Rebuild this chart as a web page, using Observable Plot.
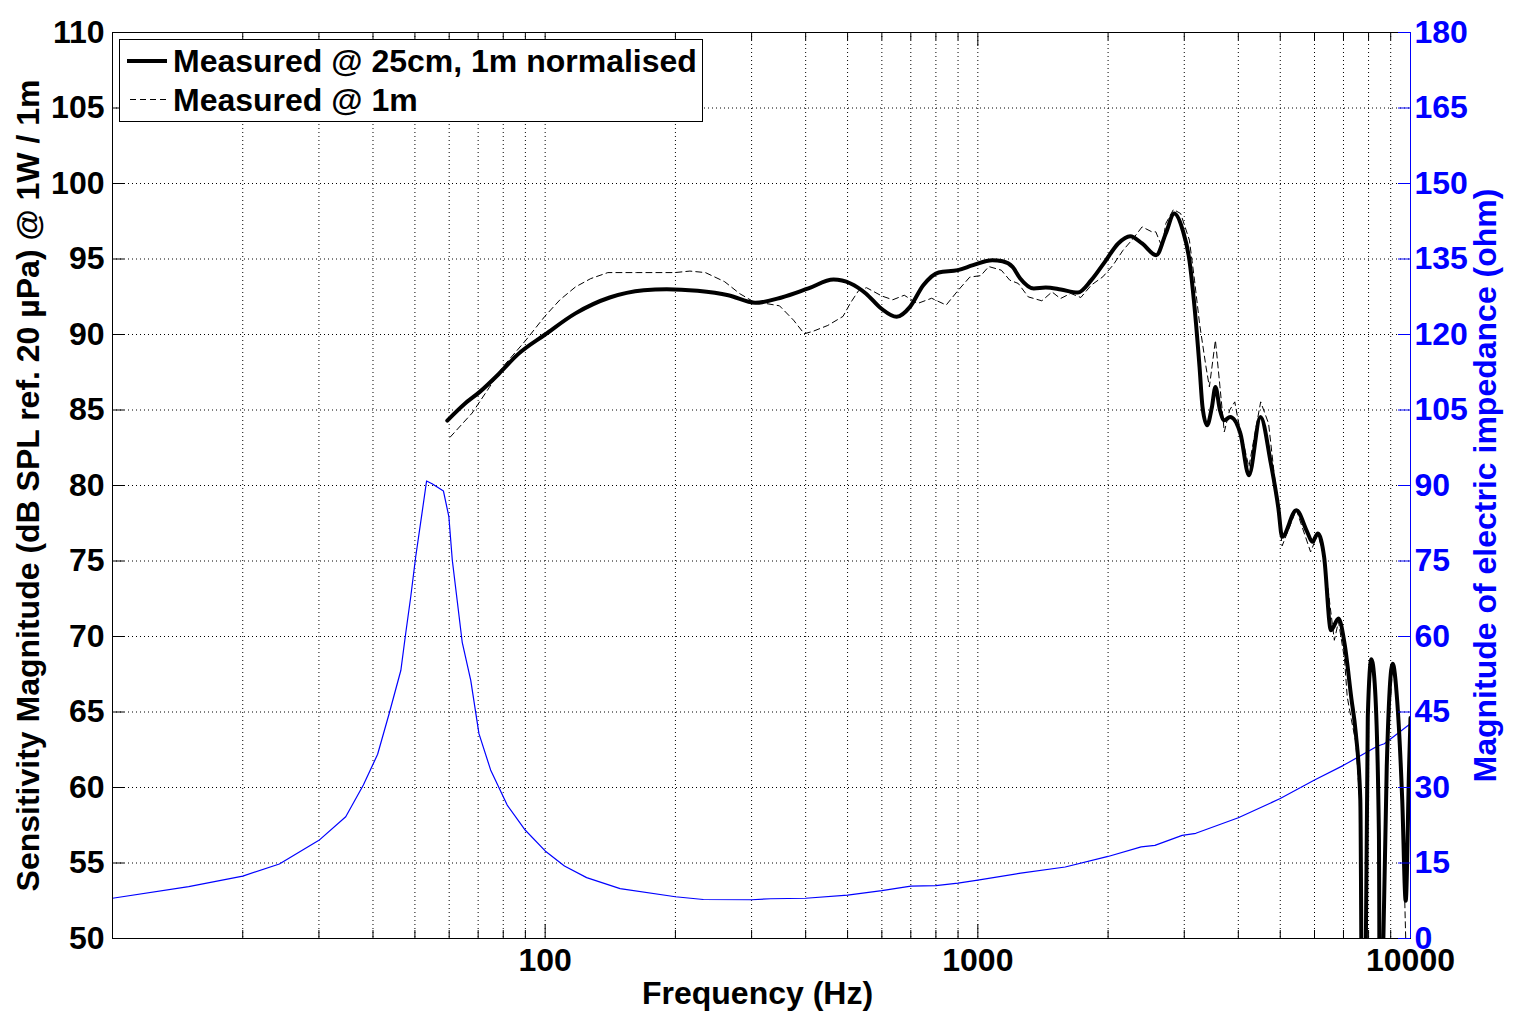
<!DOCTYPE html>
<html>
<head>
<meta charset="utf-8">
<script src="https://cdn.jsdelivr.net/npm/d3@7"></script>
<script src="https://cdn.jsdelivr.net/npm/@observablehq/plot@0.6"></script>
<style>
  html, body { margin: 0; padding: 0; background: #fff; }
  #chart svg { display: block; }
</style>
</head>
<body>
<div id="chart"></div>
<script>
// ---------------- DATA ----------------
// Measured @ 25cm, 1m normalised : [frequency Hz, dB SPL]
const measured25cm = [[59.4,84.3],[65.1,85.4],[70.6,86.2],[78.2,87.4],[86.6,88.7],[100,90.0],[117.5,91.4],[141,92.45],[169,92.93],[191,93.0],[225,92.89],[265,92.6],[306,92.1],[352,92.45],[406,93.05],[464,93.64],[508,93.38],[551,92.72],[598,91.72],[649,91.17],[697,91.83],[748,93.26],[812,94.11],[899,94.26],[975,94.59],[1080,94.92],[1140,94.85],[1203,94.48],[1253,93.71],[1347,93.05],[1435,93.11],[1555,92.98],[1702,92.78],[1829,93.6],[1966,94.81],[2111,96.03],[2250,96.51],[2397,96.03],[2585,95.25],[2719,96.69],[2844,98.01],[2975,96.91],[3083,94.92],[3168,91.83],[3254,87.85],[3306,85.2],[3387,83.99],[3476,85.2],[3541,86.53],[3628,84.99],[3712,84.32],[3831,84.54],[4045,83.44],[4231,80.68],[4500,84.54],[4756,81.46],[4950,78.5],[5050,76.6],[5446,78.36],[5770,76.93],[5929,76.27],[6110,76.82],[6315,75.27],[6548,70.42],[6817,71.19],[7039,69.54],[7300,65.9],[7474,63.6],[7656,59.2],[7770,30],[7967,64.7],[8120,68.5],[8265,66.9],[8452,57.0],[8510,35],[8656,50],[8813,61.4],[9093,68.2],[9313,65.8],[9569,59.2],[9748,52.5],[9926,61.4],[10000,64.6]];

// Measured @ 1m : [frequency Hz, dB SPL]
const measured1m = [[60.3,83.2],[67.8,84.8],[74.3,86.5],[79.8,87.85],[90.1,89.6],[99.8,91.2],[108.2,92.3],[117.5,93.15],[127.4,93.7],[139.6,94.1],[162.8,94.1],[199.4,94.1],[216,94.2],[234.6,94.1],[259.8,93.5],[281.8,92.7],[302,92.2],[348,91.9],[375,90.95],[397,90.05],[415,90.2],[450,90.6],[488,91.2],[508,92.1],[530,92.9],[553,93.1],[600,92.55],[636,92.3],[676,92.6],[725,92.05],[782,92.4],[845,91.95],[899,92.9],[958,93.8],[1016,93.9],[1060,94.5],[1133,94.26],[1185,93.6],[1240,93.38],[1308,92.49],[1406,92.23],[1484,92.82],[1552,92.38],[1639,92.72],[1730,92.45],[1829,93.27],[1945,93.82],[2053,94.59],[2166,95.58],[2287,96.36],[2397,97.13],[2524,96.8],[2578,96.8],[2665,95.8],[2719,97.35],[2832,98.28],[2943,98.01],[3083,96.25],[3168,93.6],[3254,90.73],[3368,87.85],[3429,86.53],[3541,89.62],[3628,86.53],[3712,83.55],[3819,84.99],[3925,85.54],[3996,84.32],[4231,81.23],[4505,85.54],[4699,84.1],[4950,78.3],[5050,76.0],[5446,78.4],[5876,75.6],[6110,76.8],[6315,75.2],[6668,69.75],[6817,71.0],[7039,68.5],[7141,66.0],[7300,64.5],[7474,63.0],[7656,58.5],[7770,30],[7967,64.7],[8120,68.5],[8265,66.9],[8452,57],[8510,35],[8656,50],[8813,61.4],[9093,68.2],[9313,65.8],[9569,59.2],[9748,50],[9830,35],[10000,38]];

// Magnitude of electric impedance : [frequency Hz, ohm]
const impedance = [[10,8.0],[15,10.3],[20,12.4],[24.3,14.8],[30,19.5],[34.6,24.2],[38,30.5],[41,36.6],[43.6,44.7],[46.4,53.3],[47.6,60.6],[48.9,67.9],[50.2,75.8],[51.9,84.4],[53.2,90.9],[54.9,90.3],[58.2,88.9],[59.9,83.8],[61,75.2],[62.6,67.2],[64.3,58.9],[67.3,51.3],[70.3,40.7],[74.8,33.5],[81.7,26.5],[90,21.5],[100,17.4],[110.8,14.4],[124.7,12.1],[149,9.9],[200,8.3],[232,7.75],[300,7.7],[332,7.9],[400,8.0],[500,8.6],[600,9.5],[700,10.4],[800,10.5],[900,11.0],[1000,11.6],[1257,13.0],[1592,14.2],[2000,16.3],[2385,18.2],[2566,18.5],[2967,20.5],[3190,20.9],[4000,24.0],[5000,27.8],[6000,31.5],[7000,34.4],[8375,38.2],[8700,38.7],[10000,42.7]];

// Axes / ticks
const xDomain = [10, 10000];
const yDomain = [50, 110];              // dB
const ohmDomain = [0, 180];             // right axis
const xMajorTicks = [100, 1000];
const xLabelTicks = [100, 1000, 10000];
const xMinorTicks = [20,30,40,50,60,70,80,90,200,300,400,500,600,700,800,900,2000,3000,4000,5000,6000,7000,8000,9000];
const yTicks = [50,55,60,65,70,75,80,85,90,95,100,105,110];
const yGrid = [55,60,65,70,75,80,85,90,95,100,105];
const xLabel = "Frequency (Hz)";
const yLabelLeft = "Sensitivity Magnitude (dB SPL ref. 20 \u00B5Pa) @ 1W / 1m";
const yLabelRight = "Magnitude of electric impedance (ohm)";
const legendLabels = ["Measured @ 25cm, 1m normalised", "Measured @ 1m"];

// ---------------- LAYOUT ----------------
const W = 1514, H = 1029;
const mL = 112, mR = 104, mT = 32, mB = 91;
const frameW = W - mL - mR, frameH = H - mT - mB;
// map ohms onto the dB scale (0..180 ohm <-> 50..110 dB)
const ohmToDb = z => yDomain[0] + (z - ohmDomain[0]) * (yDomain[1] - yDomain[0]) / (ohmDomain[1] - ohmDomain[0]);
const dbToOhm = d => ohmDomain[0] + (d - yDomain[0]) * (ohmDomain[1] - ohmDomain[0]) / (yDomain[1] - yDomain[0]);

const font = "'Liberation Sans', Arial, Helvetica, sans-serif";
const fs = 32;

const plot = Plot.plot({
  width: W, height: H,
  marginLeft: mL, marginRight: mR, marginTop: mT, marginBottom: mB,
  style: { fontFamily: font, fontSize: fs + "px", fontWeight: "bold", background: "white", color: "black", overflow: "visible" },
  x: { type: "log", domain: xDomain },
  y: { domain: yDomain },
  marks: [
    // grid
    Plot.ruleX(xMinorTicks.concat(xMajorTicks), { stroke: "black", strokeWidth: 1, strokeDasharray: "1,3" }),
    Plot.ruleY(yGrid, { stroke: "black", strokeWidth: 1, strokeDasharray: "1,3" }),
    // curves
    Plot.line(impedance, { x: d => d[0], y: d => ohmToDb(d[1]), stroke: "#0000ff", strokeWidth: 1.2, clip: true }),
    Plot.line(measured1m, { x: d => d[0], y: d => d[1], stroke: "black", strokeWidth: 1, strokeDasharray: "6,4", clip: true }),
    Plot.line(measured25cm, { x: d => d[0], y: d => d[1], stroke: "black", strokeWidth: 4, curve: "monotone-x", clip: true }),
    // frame
    Plot.frame({ stroke: "black", strokeWidth: 1 }),
    Plot.ruleX([xDomain[1]], { stroke: "#0000ff", strokeWidth: 1 }),
    // inward ticks (bottom / top)
    Plot.ruleX(xMinorTicks, { stroke: "black", insetTop: frameH - 8 }),
    Plot.ruleX(xMinorTicks, { stroke: "black", insetBottom: frameH - 8 }),
    Plot.ruleX(xMajorTicks, { stroke: "black", insetTop: frameH - 14 }),
    Plot.ruleX(xMajorTicks, { stroke: "black", insetBottom: frameH - 14 }),
    // inward ticks (left black / right blue)
    Plot.ruleY(yTicks, { stroke: "black", insetRight: frameW - 12 }),
    Plot.ruleY(yTicks, { stroke: "#0000ff", insetLeft: frameW - 12 }),
    // tick labels
    Plot.axisX(xLabelTicks, { tickSize: 0, tickPadding: 10, tickFormat: d => String(d), label: null }),
    Plot.axisY(yTicks, { anchor: "left", tickSize: 0, tickPadding: 8, tickFormat: d => String(d), label: null }),
    Plot.axisY(yTicks, { anchor: "right", tickSize: 0, tickPadding: 4, tickFormat: d => String(dbToOhm(d)), fill: "#0000ff", label: null }),
    // axis titles
    Plot.text([xLabel], { frameAnchor: "bottom", dy: 55, dx: -4, text: d => d, lineAnchor: "middle", textAnchor: "middle" }),
    Plot.text([yLabelLeft], { frameAnchor: "left", dx: -84, rotate: -90, text: d => d, lineAnchor: "middle", textAnchor: "middle" }),
    Plot.text([yLabelRight], { frameAnchor: "right", dx: 75, rotate: -90, text: d => d, fill: "#0000ff", lineAnchor: "middle", textAnchor: "middle" })
  ]
});

// ---------------- LEGEND ----------------
const svg = d3.select(plot);
const lg = svg.append("g").attr("class", "legend").attr("text-anchor", "start");
lg.append("rect").attr("x", 119.5).attr("y", 39.5).attr("width", 583).attr("height", 82)
  .attr("fill", "white").attr("stroke", "black").attr("stroke-width", 1);
lg.append("line").attr("x1", 127).attr("x2", 167).attr("y1", 61).attr("y2", 61)
  .attr("stroke", "black").attr("stroke-width", 4);
lg.append("line").attr("x1", 130).attr("x2", 167).attr("y1", 99.5).attr("y2", 99.5)
  .attr("stroke", "black").attr("stroke-width", 1).attr("stroke-dasharray", "6,4");
legendLabels.forEach((t, i) => {
  lg.append("text").attr("x", 173).attr("y", 72 + i * 38.5).text(t)
    .attr("text-anchor", "start")
    .attr("font-family", font).attr("font-size", fs).attr("font-weight", "bold").attr("fill", "black");
});

document.getElementById("chart").appendChild(plot);
</script>
</body>
</html>
